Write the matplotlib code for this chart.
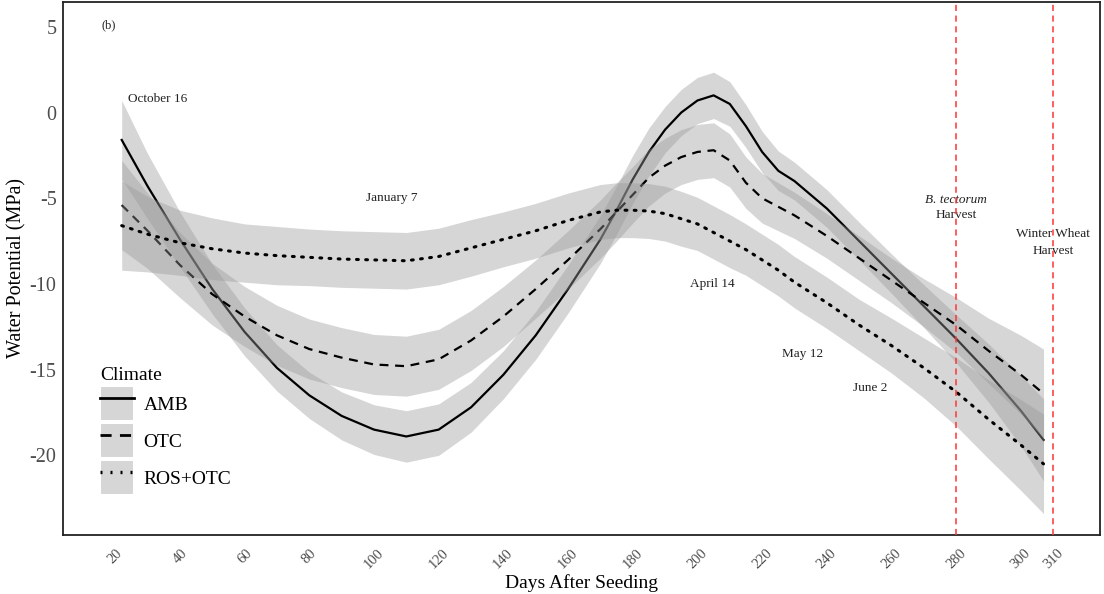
import matplotlib
matplotlib.use("Agg")
import matplotlib.pyplot as plt
from matplotlib.patches import Patch
from matplotlib.lines import Line2D

plt.rcParams['font.family'] = ['Liberation Serif', 'DejaVu Serif']

days = [22, 30, 40, 50, 60, 70, 80, 90, 100, 110, 120, 130, 140, 150, 160, 170, 175, 180,
        185, 190, 195, 200, 205, 210, 215, 220, 225, 230, 240, 250, 260, 270, 280, 290, 300, 307]

amb = [-1.6, -4.3, -7.4, -10.3, -12.8, -14.9, -16.5, -17.7, -18.5, -18.9, -18.5, -17.2, -15.3,
       -13.0, -10.3, -7.4, -5.7, -3.9, -2.3, -1.0, 0.0, 0.7, 1.0, 0.5, -0.8, -2.3, -3.4, -4.0,
       -5.6, -7.5, -9.4, -11.3, -13.2, -15.2, -17.4, -19.1]
otc = [-5.4, -6.9, -8.9, -10.6, -11.9, -13.0, -13.8, -14.3, -14.7, -14.8, -14.4, -13.3, -11.9,
       -10.3, -8.6, -6.8, -5.8, -4.8, -3.8, -3.1, -2.6, -2.3, -2.2, -2.8, -4.1, -5.0, -5.5, -6.0,
       -7.2, -8.5, -9.8, -11.1, -12.4, -13.9, -15.3, -16.4]
ros = [-6.6, -7.1, -7.6, -7.95, -8.2, -8.35, -8.45, -8.55, -8.6, -8.65, -8.4, -7.9, -7.4,
       -6.9, -6.3, -5.8, -5.7, -5.7, -5.75, -5.9, -6.2, -6.5, -7.0, -7.5, -8.0, -8.6, -9.2, -9.9,
       -11.1, -12.4, -13.6, -14.9, -16.3, -17.9, -19.4, -20.5]

# half widths of the confidence bands
amb_se = [2.3, 1.9, 1.6, 1.45, 1.4, 1.35, 1.35, 1.4, 1.45, 1.5, 1.5, 1.45, 1.4, 1.4, 1.4, 1.4,
          1.4, 1.4, 1.4, 1.35, 1.35, 1.35, 1.35, 1.3, 1.25, 1.2, 1.15, 1.1, 1.1, 1.1, 1.15, 1.25,
          1.4, 1.7, 2.05, 2.4]
otc_se = [2.6, 2.2, 1.9, 1.8, 1.75, 1.75, 1.75, 1.75, 1.75, 1.75, 1.75, 1.75, 1.75, 1.7, 1.7,
          1.7, 1.7, 1.65, 1.65, 1.6, 1.6, 1.6, 1.6, 1.55, 1.5, 1.45, 1.4, 1.35, 1.3, 1.3, 1.3,
          1.4, 1.6, 1.9, 2.3, 2.6]
ros_se = [2.6, 2.2, 1.9, 1.8, 1.7, 1.7, 1.65, 1.65, 1.65, 1.65, 1.65, 1.65, 1.6, 1.6, 1.6, 1.6,
          1.6, 1.6, 1.6, 1.6, 1.6, 1.55, 1.55, 1.55, 1.5, 1.5, 1.5, 1.5, 1.5, 1.5, 1.6, 1.75,
          2.0, 2.3, 2.65, 2.9]

labels = ["AMB", "OTC", "ROS+OTC"]
styles = ["-", (0, (4, 3)), (0, (0.6, 2.4))]

xticks = [20, 40, 60, 80, 100, 120, 140, 160, 180, 200, 220, 240, 260, 280, 300, 310]
harvest_days = [280, 310]

dates = ["October 16", "January 7", "April 14", "May 12", "June 2"]
date_x = [33, 105.5, 204.5, 232.5, 253.5]
date_y = [0.8, -5.0, -10.0, -14.1, -16.1]

fig = plt.figure(figsize=(11.04, 5.94), dpi=100)
ax = fig.add_axes([0.0575, 0.099, 0.939, 0.898])

z = 1
for vals, se, ls in zip([amb, otc, ros], [amb_se, otc_se, ros_se], styles):
    lo = [v - s for v, s in zip(vals, se)]
    hi = [v + s for v, s in zip(vals, se)]
    ax.fill_between(days, lo, hi, color='#999999', alpha=0.4, linewidth=0, zorder=z)
    lw = 2.2 if ls == styles[2] else 1.6
    ax.plot(days, vals, color='black', linestyle=ls, linewidth=lw, zorder=z + 1,
            dash_capstyle='round' if ls == styles[2] else 'butt', solid_joinstyle='round')
    z += 2

for d in harvest_days:
    ax.axvline(d, color='#ff3333', linestyle=(0, (4, 3)), linewidth=1.1, zorder=10)

for t, x, y in zip(dates, date_x, date_y):
    ax.text(x, y, t, fontsize=9.5, ha='center', va='center', color='#222222')
ax.text(280, -5.1, "B. tectorum", fontsize=9.5, ha='center', va='center', style='italic', color='#222222')
ax.text(280, -6.0, "Harvest", fontsize=9.5, ha='center', va='center', color='#222222')
ax.text(310, -7.1, "Winter Wheat", fontsize=9.5, ha='center', va='center', color='#222222')
ax.text(310, -8.1, "Harvest", fontsize=9.5, ha='center', va='center', color='#222222')
ax.text(18, 5.1, "(b)", fontsize=9, ha='center', va='center', color='#222222')

ax.set_xlim(4, 324.5)
ax.set_ylim(-24.66, 6.46)
ax.set_xticks(xticks)
ax.set_xticklabels([str(v) for v in xticks], rotation=45, fontsize=10.5, color='#4d4d4d')
ax.set_yticks([5, 0, -5, -10, -15, -20])
ax.set_yticklabels(["5", "0", "-5", "-10", "-15", "-20"], fontsize=14.5, color='#4d4d4d')
ax.tick_params(length=0, pad=5)
ax.tick_params(axis='x', pad=8)
for s in ax.spines.values():
    s.set_linewidth(1.3)
    s.set_color('#222222')

ax.set_xlabel("Days After Seeding", fontsize=14, labelpad=2)
ax.set_ylabel("Water Potential (MPa)", fontsize=14.5, labelpad=2)

handles = [(Patch(facecolor='#d6d6d6', edgecolor='white', linewidth=1.5),
            Line2D([], [], color='black', linestyle=ls, linewidth=2.4 if ls == styles[2] else 2.0))
           for ls in styles]
leg = ax.legend(handles, labels, title="Climate", loc='lower left', bbox_to_anchor=(0.035, 0.075),
                frameon=False, fontsize=14, title_fontsize=14, handlelength=1.75, handleheight=2.4,
                labelspacing=0.1, handletextpad=0.5, borderaxespad=0, borderpad=0)
leg._legend_box.align = 'left'

fig.savefig("out.png", dpi=100)
